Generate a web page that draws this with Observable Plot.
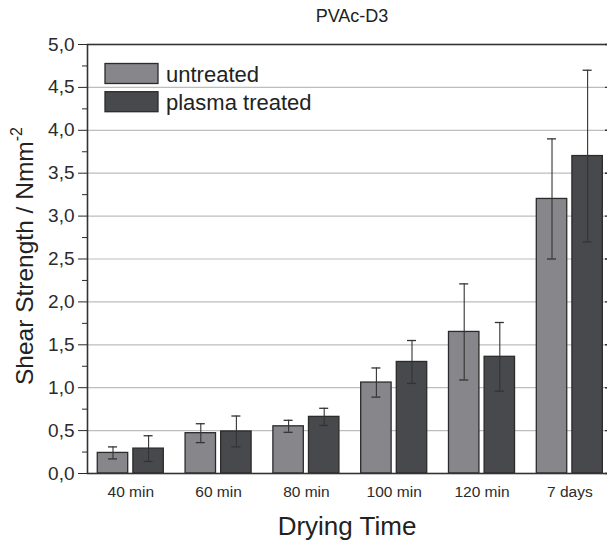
<!DOCTYPE html>
<html>
<head>
<meta charset="utf-8">
<script src="https://cdn.jsdelivr.net/npm/d3@7"></script>
<script src="https://cdn.jsdelivr.net/npm/@observablehq/plot@0.6"></script>
<style>
  html, body { margin: 0; padding: 0; background: #fff; }
  #chart { width: 607px; height: 542px; overflow: hidden; }
</style>
</head>
<body>
<div id="chart"></div>
<script>
// ---- data ----
const categories = ["40 min", "60 min", "80 min", "100 min", "120 min", "7 days"];
const seriesNames = ["untreated", "plasma treated"];
const untreated = [0.24, 0.47, 0.55, 1.06, 1.65, 3.20];
const untreatedErr = [0.07, 0.11, 0.07, 0.17, 0.56, 0.70];
const plasma = [0.29, 0.49, 0.66, 1.30, 1.36, 3.70];
const plasmaErr = [0.15, 0.18, 0.10, 0.25, 0.40, 1.00];
const majorTicks = [0, 0.5, 1, 1.5, 2, 2.5, 3, 3.5, 4, 4.5, 5];
const minorTicks = [0.25, 0.75, 1.25, 1.75, 2.25, 2.75, 3.25, 3.75, 4.25, 4.75];
const gridValues = [0.5, 1, 1.5, 2, 2.5, 3, 3.5, 4, 4.5];
const titleText = "PVAc-D3";
const xLabel = "Drying Time";
const yLabelMain = "Shear Strength / Nmm";
const yLabelSup = "-2";

const colors = {"untreated": "#87878b", "plasma treated": "#48494c"};
const edge = "#2b2b2b";

const rowsU = categories.map((c, i) => ({time: c, value: untreated[i], lo: untreated[i] - untreatedErr[i], hi: untreated[i] + untreatedErr[i]}));
const rowsP = categories.map((c, i) => ({time: c, value: plasma[i], lo: plasma[i] - plasmaErr[i], hi: plasma[i] + plasmaErr[i]}));

const fmt = d => d.toFixed(1).replace(".", ",");
const font = "'Liberation Sans', Arial, Helvetica, sans-serif";

const plot = Plot.plot({
  width: 607,
  height: 542,
  marginLeft: 87,
  marginRight: -6,
  marginTop: 44,
  marginBottom: 69,
  style: {fontFamily: font, color: "#2b2b2b", background: "white", overflow: "hidden"},
  x: {type: "band", domain: categories, range: [87, 612.6], round: false, paddingInner: 0.248, paddingOuter: 0.117, align: 0.5, label: null},
  y: {domain: [0, 5], label: null},
  marks: [
    Plot.ruleY(gridValues, {stroke: "#bdbdbd", strokeWidth: 1.2}),
    Plot.barY(rowsU, {x: "time", y: "value", insetRight: 35.6, fill: colors["untreated"], stroke: edge, strokeWidth: 1.3}),
    Plot.barY(rowsP, {x: "time", y: "value", insetLeft: 35.6, fill: colors["plasma treated"], stroke: edge, strokeWidth: 1.3}),
    Plot.ruleX(rowsU, {x: "time", y1: "lo", y2: "hi", dx: -17.8, stroke: "#333", strokeWidth: 1.1}),
    Plot.ruleX(rowsP, {x: "time", y1: "lo", y2: "hi", dx: 17.8, stroke: "#333", strokeWidth: 1.1}),
    Plot.tickY(rowsU, {x: "time", y: "hi", insetLeft: 10.7, insetRight: 46.3, stroke: "#333", strokeWidth: 1.3}),
    Plot.tickY(rowsU, {x: "time", y: "lo", insetLeft: 10.7, insetRight: 46.3, stroke: "#333", strokeWidth: 1.3}),
    Plot.tickY(rowsP, {x: "time", y: "hi", insetLeft: 46.3, insetRight: 10.7, stroke: "#333", strokeWidth: 1.3}),
    Plot.tickY(rowsP, {x: "time", y: "lo", insetLeft: 46.3, insetRight: 10.7, stroke: "#333", strokeWidth: 1.3}),
    Plot.frame({stroke: "#333", strokeWidth: 1.6}),
    Plot.tickY(majorTicks, {insetLeft: 518, stroke: "#333", strokeWidth: 1.4}),
    Plot.axisY(majorTicks, {tickSize: 9, tickPadding: 4, tickFormat: fmt, fontSize: 19, label: null}),
    Plot.axisY(minorTicks, {tickSize: 5, tickFormat: () => "", label: null}),
    Plot.axisX({tickSize: 0, tickPadding: 12, fontSize: 15.5, label: null})
  ]
});

document.getElementById("chart").appendChild(plot);

// legend, title and axis titles
const svg = d3.select(plot);
const leg = svg.append("g").attr("font-family", font).attr("fill", "#222").attr("text-anchor", "start");
seriesNames.forEach((name, i) => {
  const y0 = 63.5 + i * 28.2;
  leg.append("rect").attr("x", 105).attr("y", y0).attr("width", 53).attr("height", 20)
    .attr("fill", colors[name]).attr("stroke", edge).attr("stroke-width", 1.3);
  leg.append("text").attr("x", 166).attr("y", y0 + 18).attr("font-size", 22)
    .attr("text-anchor", "start").text(name);
});

svg.append("text").attr("x", 352).attr("y", 22).attr("text-anchor", "middle")
  .attr("font-family", font).attr("font-size", 18).attr("fill", "#222").text(titleText);

svg.append("text").attr("x", 347).attr("y", 535).attr("text-anchor", "middle")
  .attr("font-family", font).attr("font-size", 26).attr("fill", "#222").text(xLabel);

const yl = svg.append("text")
  .attr("transform", "translate(33,385) rotate(-90)")
  .attr("text-anchor", "start")
  .attr("font-family", font).attr("font-size", 24.5).attr("fill", "#222");
yl.append("tspan").text(yLabelMain);
yl.append("tspan").attr("font-size", 16).attr("dy", -11).text(yLabelSup);
</script>
</body>
</html>
